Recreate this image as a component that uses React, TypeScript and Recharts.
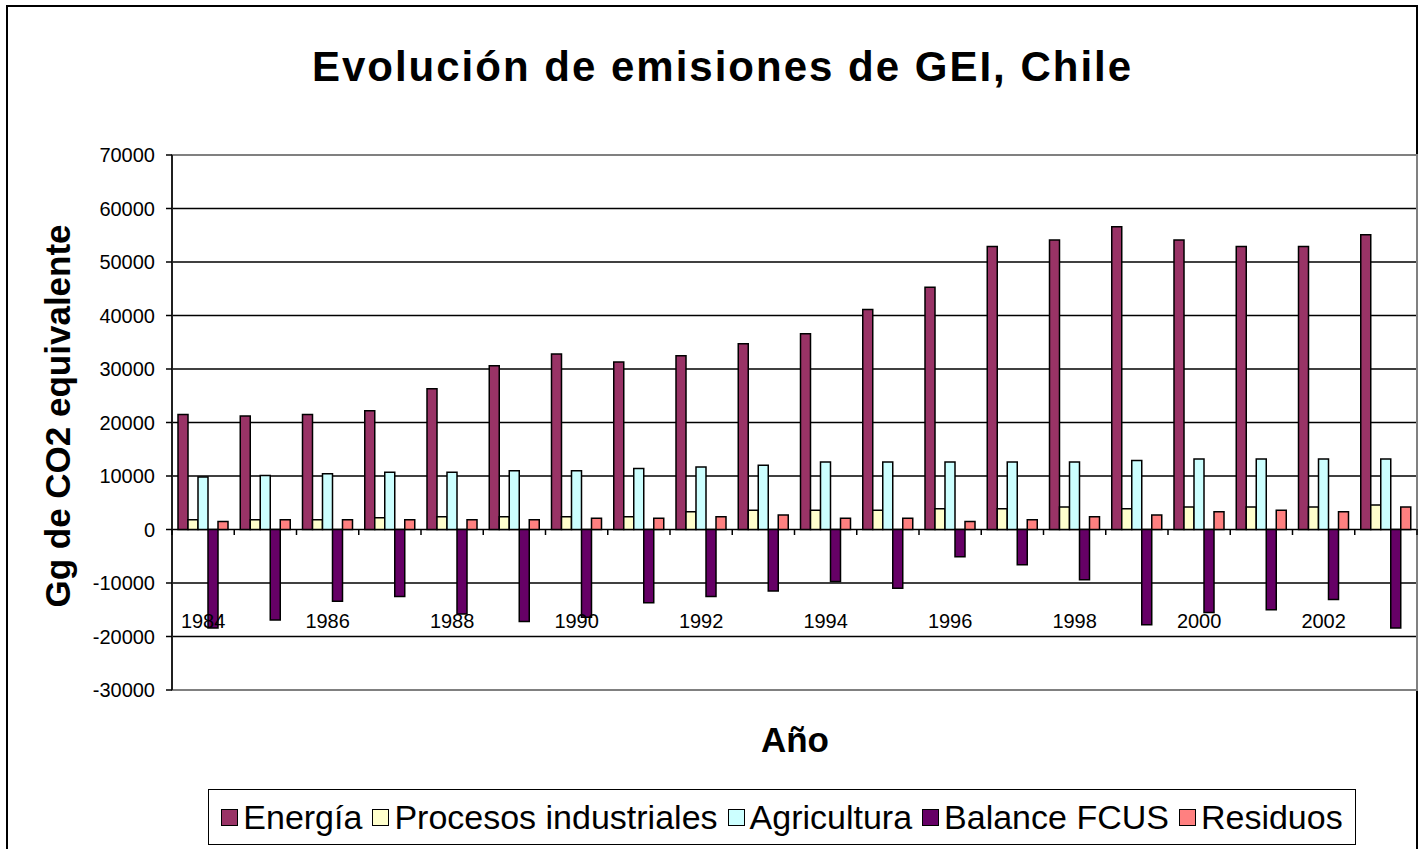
import React from 'react';
import {
  BarChart,
  Bar,
  XAxis,
  YAxis,
  CartesianGrid,
  ReferenceArea,
  Legend,
} from 'recharts';

const years = [
  '1984', '1985', '1986', '1987', '1988', '1989', '1990', '1991', '1992', '1993',
  '1994', '1995', '1996', '1997', '1998', '1999', '2000', '2001', '2002', '2003',
];

const energia = [
  21500, 21200, 21500, 22200, 26300, 30600, 32800, 31300, 32500, 34700,
  36600, 41100, 45300, 52900, 54100, 56600, 54100, 52900, 52900, 55100,
];
const procesos = [
  1800, 1800, 1800, 2200, 2400, 2400, 2400, 2400, 3300, 3600,
  3600, 3600, 3900, 3900, 4200, 3900, 4200, 4200, 4200, 4600,
];
const agricultura = [
  9800, 10100, 10400, 10700, 10700, 11000, 11000, 11400, 11700, 12000,
  12600, 12600, 12600, 12600, 12600, 12900, 13200, 13200, 13200, 13200,
];
const balanceFcus = [
  -18400, -16900, -13400, -12500, -15800, -17200, -16400, -13700, -12500, -11500,
  -9700, -11000, -5100, -6600, -9400, -17800, -15500, -15000, -13100, -18400,
];
const residuos = [
  1500, 1800, 1800, 1800, 1800, 1800, 2100, 2100, 2400, 2700,
  2100, 2100, 1500, 1800, 2400, 2700, 3300, 3600, 3300, 4200,
];

const yTicks = [-30000, -20000, -10000, 0, 10000, 20000, 30000, 40000, 50000, 60000, 70000];
const gridValues = [-20000, -10000, 0, 10000, 20000, 30000, 40000, 50000, 60000];

const series = [
  { key: 'energia', name: 'Energía', color: '#993366' },
  { key: 'procesos', name: 'Procesos industriales', color: '#FFFFCC' },
  { key: 'agricultura', name: 'Agricultura', color: '#CCFFFF' },
  { key: 'balance', name: 'Balance FCUS', color: '#660066' },
  { key: 'residuos', name: 'Residuos', color: '#FF8080' },
];

const data = years.map((year, i) => ({
  year,
  energia: energia[i],
  procesos: procesos[i],
  agricultura: agricultura[i],
  balance: balanceFcus[i],
  residuos: residuos[i],
}));

const FONT = '"Liberation Sans", Arial, sans-serif';
const BAND = 1245 / years.length;

// Excel draws the category labels inside the plot and the ticks on the zero line
const YearTick = (props: any) => {
  const { x, y, payload, index } = props;
  const zeroY = y - 161;
  return (
    <g>
      <line x1={x - BAND / 2} x2={x - BAND / 2} y1={zeroY} y2={zeroY + 6} stroke="#000" strokeWidth={1.5} />
      {index === years.length - 1 && (
        <line x1={x + BAND / 2} x2={x + BAND / 2} y1={zeroY} y2={zeroY + 6} stroke="#000" strokeWidth={1.5} />
      )}
      {index % 2 === 0 && (
        <text x={x} y={y - 62} textAnchor="middle" fontSize={20} fill="#000" fontFamily={FONT}>
          {payload.value}
        </text>
      )}
    </g>
  );
};

const LegendBox = () => (
  <div
    style={{
      border: '1.5px solid #000',
      height: 56,
      display: 'flex',
      alignItems: 'center',
      justifyContent: 'center',
      gap: 10,
      fontFamily: FONT,
      fontSize: 34,
      color: '#000',
      background: '#fff',
      boxSizing: 'border-box',
    }}
  >
    {series.map(s => (
      <span key={s.key} style={{ display: 'flex', alignItems: 'center' }}>
        <span
          style={{
            width: 15,
            height: 15,
            background: s.color,
            border: '1.5px solid #000',
            marginRight: 5,
            display: 'inline-block',
          }}
        />
        {s.name}
      </span>
    ))}
  </div>
);

export default function App() {
  return (
    <div style={{ position: 'absolute', left: 0, top: 0, width: 1420, height: 849, background: '#fff', overflow: 'hidden' }}>
      <div
        style={{
          position: 'absolute',
          left: 6,
          top: 5,
          width: 1412,
          height: 900,
          border: '2px solid #000',
          boxSizing: 'border-box',
        }}
      />
      <div
        style={{
          position: 'absolute',
          left: 0,
          top: 46,
          width: 1445,
          textAlign: 'center',
          fontFamily: FONT,
          fontWeight: 'bold',
          fontSize: 42,
          lineHeight: '42px',
          letterSpacing: 2,
          color: '#000',
        }}
      >
        Evolución de emisiones de GEI, Chile
      </div>
      <div
        style={{
          position: 'absolute',
          left: 58 - 250,
          top: 416 - 20,
          width: 500,
          height: 40,
          lineHeight: '40px',
          textAlign: 'center',
          transform: 'rotate(-90deg)',
          fontFamily: FONT,
          fontWeight: 'bold',
          fontSize: 35,
          color: '#000',
        }}
      >
        Gg de CO2 equivalente
      </div>
      <div
        style={{
          position: 'absolute',
          left: 695,
          top: 752 - 30,
          width: 200,
          textAlign: 'center',
          lineHeight: '35px',
          fontFamily: FONT,
          fontWeight: 'bold',
          fontSize: 35,
          color: '#000',
        }}
      >
        Año
      </div>
      <div style={{ position: 'absolute', left: 0, top: 0 }}>
        <BarChart
          width={1420}
          height={849}
          data={data}
          margin={{ top: 155, right: 3, left: 112, bottom: 129 }}
          barCategoryGap={6}
          barGap={0}
        >
          <CartesianGrid horizontal vertical={false} stroke="#000" strokeWidth={1.5} horizontalValues={gridValues} />
          <ReferenceArea y1={-30000} y2={70000} fill="none" stroke="#808080" strokeWidth={2} />
          <XAxis
            dataKey="year"
            interval={0}
            axisLine={false}
            tickLine={false}
            tickSize={0}
            tickMargin={0}
            height={30}
            tick={<YearTick />}
          />
          <YAxis
            domain={[-30000, 70000]}
            ticks={yTicks}
            interval={0}
            width={60}
            tickSize={6}
            tickMargin={11}
            axisLine={{ stroke: '#000', strokeWidth: 1.5 }}
            tickLine={{ stroke: '#000', strokeWidth: 1.5 }}
            tick={{ fontSize: 20, fill: '#000', fontFamily: FONT }}
          />
          {series.map(s => (
            <Bar
              key={s.key}
              dataKey={s.key}
              name={s.name}
              fill={s.color}
              stroke="#000"
              strokeWidth={1.5}
              isAnimationActive={false}
            />
          ))}
          <Legend
            verticalAlign="middle"
            align="center"
            content={<LegendBox />}
            wrapperStyle={{ left: 208, top: 789, width: 1148, height: 57 }}
          />
        </BarChart>
      </div>
    </div>
  );
}
